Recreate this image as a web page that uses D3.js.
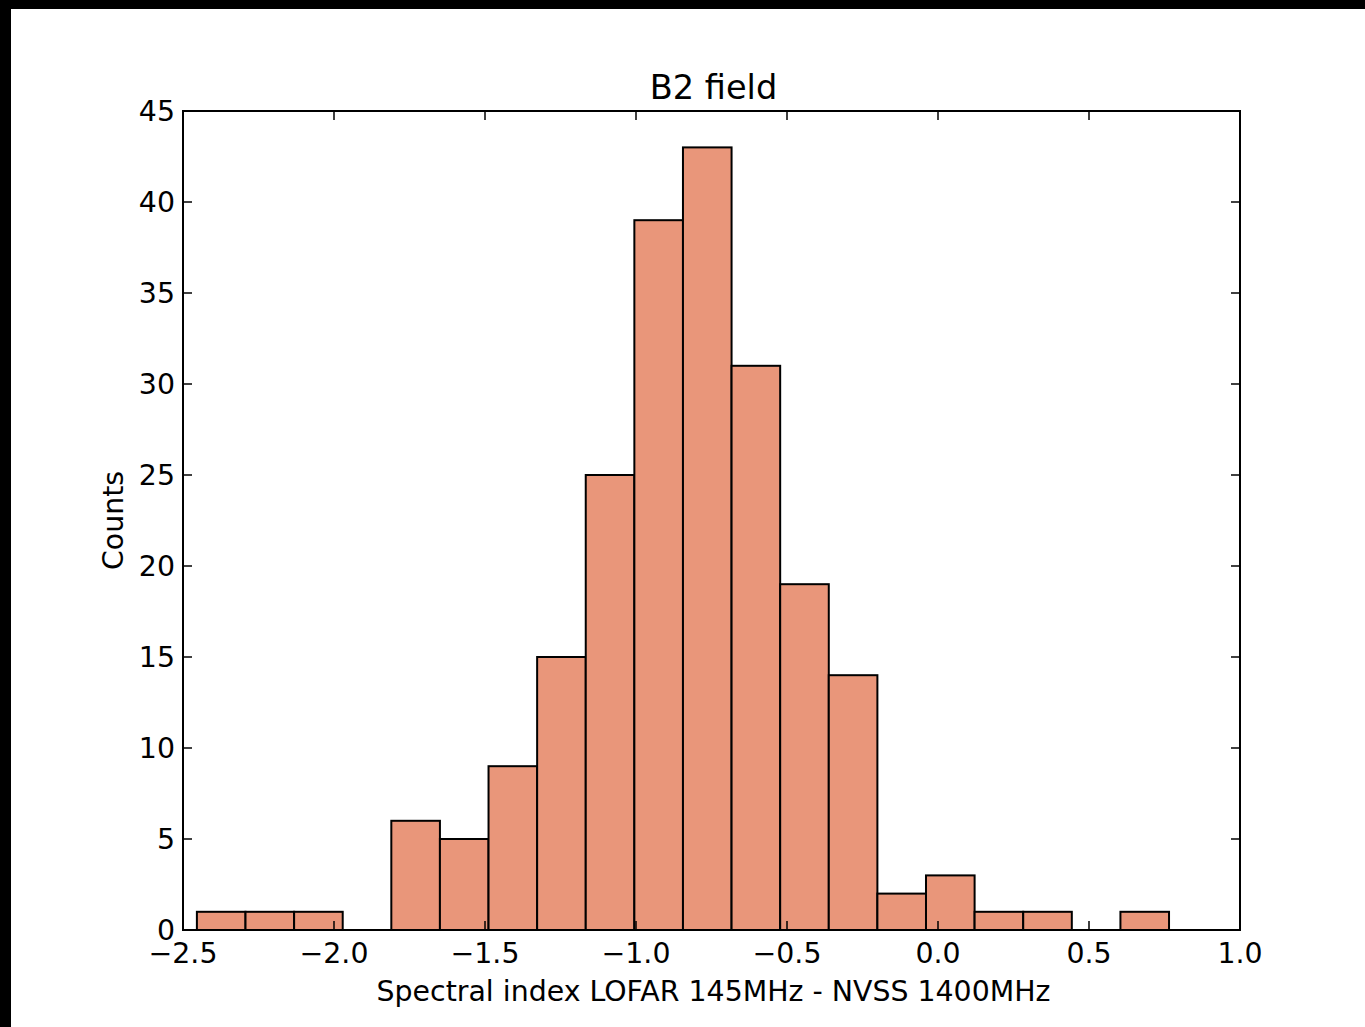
<!DOCTYPE html>
<html>
<head>
<meta charset="utf-8">
<script src="https://cdn.jsdelivr.net/npm/d3@7"></script>
<style>
  html, body { margin: 0; padding: 0; background: #fff; }
  svg { display: block; }
  text { font-family: "DejaVu Sans", sans-serif; fill: #000; }
</style>
</head>
<body>
<svg id="chart" width="1365" height="1027"></svg>
<script>
// ---- data ----
const counts = [1, 1, 1, 0, 6, 5, 9, 15, 25, 39, 43, 31, 19, 14, 2, 3, 1, 1, 0, 1];
const binStart = -2.454;
const binEnd = 0.765;
const xTicks = [-2.5, -2.0, -1.5, -1.0, -0.5, 0.0, 0.5, 1.0];
const yTicks = [0, 5, 10, 15, 20, 25, 30, 35, 40, 45];
const titleText = "B2 field";
const xLabel = "Spectral index LOFAR 145MHz - NVSS 1400MHz";
const yLabel = "Counts";

// ---- layout ----
const W = 1365, H = 1027;
const pL = 183, pR = 1240, pT = 111, pB = 930;
const fs = 28.4;
const svg = d3.select("#chart");

// black border strips (as in the reference image)
svg.append("rect").attr("x", 0).attr("y", 0).attr("width", W).attr("height", 9).attr("fill", "#000");
svg.append("rect").attr("x", 0).attr("y", 0).attr("width", 11).attr("height", H).attr("fill", "#000");

const x = d3.scaleLinear().domain([-2.5, 1.0]).range([pL, pR]);
const y = d3.scaleLinear().domain([0, 45]).range([pB, pT]);

const bw = (binEnd - binStart) / counts.length;
const bins = counts.map((c, i) => ({ x0: binStart + i * bw, x1: binStart + (i + 1) * bw, c }));

// bars
svg.append("g").selectAll("rect").data(bins.filter(d => d.c > 0)).join("rect")
  .attr("x", d => x(d.x0))
  .attr("y", d => y(d.c))
  .attr("width", d => x(d.x1) - x(d.x0))
  .attr("height", d => y(0) - y(d.c))
  .attr("fill", "#E9967A")
  .attr("stroke", "#000")
  .attr("stroke-width", 2);

// ticks (inside, on all four sides)
const tl = 9;
const tg = svg.append("g").attr("stroke", "#000").attr("stroke-width", 1.5);
xTicks.forEach(t => {
  tg.append("line").attr("x1", x(t)).attr("x2", x(t)).attr("y1", pB).attr("y2", pB - tl);
  tg.append("line").attr("x1", x(t)).attr("x2", x(t)).attr("y1", pT).attr("y2", pT + tl);
});
yTicks.forEach(t => {
  tg.append("line").attr("x1", pL).attr("x2", pL + tl).attr("y1", y(t)).attr("y2", y(t));
  tg.append("line").attr("x1", pR).attr("x2", pR - tl).attr("y1", y(t)).attr("y2", y(t));
});

// frame
svg.append("rect").attr("x", pL).attr("y", pT)
  .attr("width", pR - pL).attr("height", pB - pT)
  .attr("fill", "none").attr("stroke", "#000").attr("stroke-width", 2);

// tick labels
const fmtX = t => (t < 0 ? "\u2212" : "") + Math.abs(t).toFixed(1);
svg.append("g").selectAll("text").data(xTicks).join("text")
  .attr("x", d => x(d)).attr("y", 963)
  .attr("text-anchor", "middle").attr("font-size", fs)
  .text(fmtX);
svg.append("g").selectAll("text").data(yTicks).join("text")
  .attr("x", 175).attr("y", d => y(d) + 10)
  .attr("text-anchor", "end").attr("font-size", fs)
  .text(d => d);

// title and axis labels
svg.append("text").attr("x", (pL + pR) / 2 + 2).attr("y", 99)
  .attr("text-anchor", "middle").attr("font-size", 33.6).text(titleText);
svg.append("text").attr("x", (pL + pR) / 2 + 2).attr("y", 1001)
  .attr("text-anchor", "middle").attr("font-size", fs).text(xLabel);
svg.append("text").attr("transform", `translate(123, ${(pT + pB) / 2}) rotate(-90)`)
  .attr("text-anchor", "middle").attr("font-size", fs).text(yLabel);
</script>
</body>
</html>
